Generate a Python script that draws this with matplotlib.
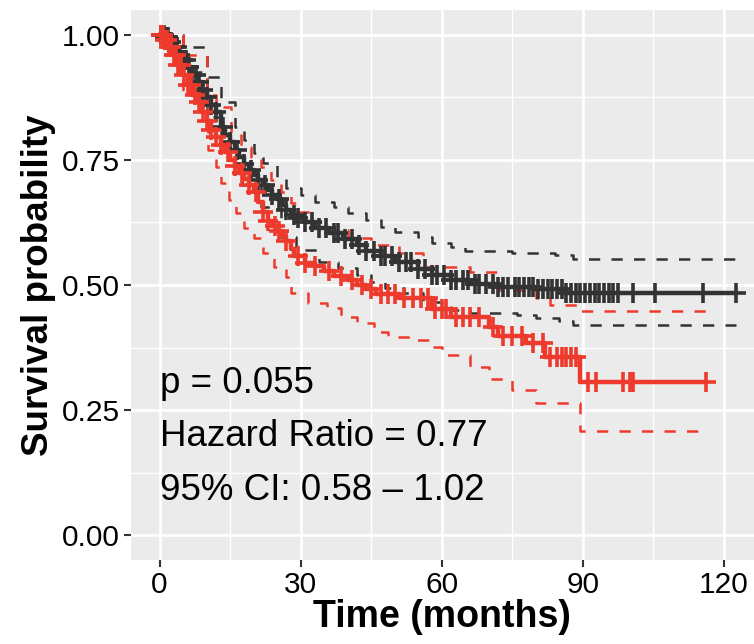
import numpy as np
import matplotlib
matplotlib.use("Agg")
import matplotlib.pyplot as plt

# ---------------- data ----------------
black_t = [0, 1, 2, 3, 4, 5, 6, 7, 8, 9, 10, 11, 12, 13, 14, 15, 16, 17, 18, 19, 20,
           21, 22, 23, 24, 25, 26, 27, 28, 29, 31, 33, 36, 39, 42, 44, 47, 50, 55, 58,
           62, 66, 72, 80, 86, 122.6]
black_s = [1.0, 0.995, 0.985, 0.975, 0.96, 0.95, 0.935, 0.92, 0.905, 0.89, 0.875, 0.86,
           0.845, 0.815, 0.8, 0.785, 0.77, 0.755, 0.742, 0.73, 0.72, 0.71, 0.7, 0.69, 0.68,
           0.672, 0.66, 0.65, 0.64, 0.634, 0.626, 0.614, 0.604, 0.592, 0.58, 0.568, 0.558,
           0.546, 0.532, 0.52, 0.51, 0.503, 0.497, 0.492, 0.485, 0.485]
black_up_t = [0, 5, 10, 13, 16, 18, 20, 22, 25, 27, 30, 33, 37, 40, 44, 47, 50, 55, 58,
              62, 65, 75, 84, 88, 122.6]
black_up_s = [1.0, 0.975, 0.915, 0.865, 0.816, 0.79, 0.764, 0.744, 0.716, 0.694, 0.68,
              0.666, 0.656, 0.644, 0.63, 0.616, 0.606, 0.596, 0.584, 0.576, 0.568, 0.564,
              0.56, 0.553, 0.553]
black_lo_t = [0, 5, 10, 13, 15, 17.5, 21.5, 25.8, 29, 34, 38, 42, 45, 48, 52, 56, 60, 62,
              66, 76, 80, 85, 88, 122.6]
black_lo_s = [1.0, 0.925, 0.835, 0.775, 0.74, 0.7, 0.655, 0.596, 0.57, 0.546, 0.534, 0.52,
              0.506, 0.494, 0.484, 0.466, 0.456, 0.45, 0.444, 0.44, 0.434, 0.428, 0.42, 0.42]
black_cens = [0.3, 0.6, 0.9, 1.2, 1.5, 1.8, 2.1, 2.5, 3, 3.4, 3.8, 4.3, 5, 5.6, 6.2, 7, 7.8,
              8.5, 9.3, 10.2, 11, 12, 13.5, 15, 16.5, 18, 19.5, 21, 22.5, 24, 25.5, 27, 28.5,
              29.5, 31, 32.5, 34, 35.5, 37, 38, 39.5, 41, 42.5, 44, 45.5, 47, 48, 49.5, 51,
              52.5, 53.5, 55, 56.5, 58, 59, 60.5, 62, 63, 64.5, 65.5, 67, 68, 69.5, 71, 72,
              73, 74, 75.5, 76.5, 77.5, 78.5, 79.5, 80.5, 81.5, 82.5, 83.5, 84.5, 85.5, 86.5,
              87.5, 88.5, 89.5, 90.5, 91.5, 92.5, 93.5, 94.5, 95.5, 96.5, 97.5, 100.7, 105.4,
              115.5, 122.6]

red_t = [0, 1, 2, 3, 4, 5, 6, 7, 8, 9, 10, 11, 12, 13, 14, 15, 16, 17, 18, 19, 20, 21, 22,
         23, 24, 25, 26, 27, 28, 28.7, 31, 33, 35, 37, 40, 42, 44, 46, 51, 58, 62, 70, 72,
         78, 82, 89.5, 116.2]
red_s = [1.0, 0.99, 0.975, 0.96, 0.94, 0.92, 0.9, 0.88, 0.865, 0.845, 0.828, 0.81, 0.795,
         0.78, 0.765, 0.75, 0.737, 0.724, 0.712, 0.7, 0.685, 0.665, 0.645, 0.628, 0.617,
         0.607, 0.598, 0.588, 0.572, 0.558, 0.545, 0.538, 0.528, 0.518, 0.51, 0.5, 0.492,
         0.482, 0.474, 0.452, 0.436, 0.416, 0.398, 0.384, 0.356, 0.307, 0.307]
red_up_t = [0, 5, 10, 12, 15.2, 17.3, 19.5, 21.5, 23.7, 25.8, 28, 29, 32, 36, 40, 45, 51,
            56, 66, 72, 80, 83, 89.5, 116.2]
red_up_s = [1.0, 0.96, 0.88, 0.855, 0.804, 0.776, 0.756, 0.736, 0.71, 0.686, 0.664, 0.645,
            0.625, 0.61, 0.594, 0.58, 0.564, 0.536, 0.526, 0.49, 0.474, 0.46, 0.448, 0.448]
red_lo_t = [0, 5, 10.3, 12, 13, 14.8, 16.2, 18, 20, 22, 24.3, 26.8, 28, 31.5, 35.7, 38.5,
            42, 45.5, 48.5, 54, 58, 60, 66, 70, 75, 80, 89.5, 116.2]
red_lo_s = [1.0, 0.885, 0.77, 0.736, 0.704, 0.67, 0.644, 0.614, 0.594, 0.564, 0.536, 0.516,
            0.484, 0.464, 0.454, 0.436, 0.424, 0.406, 0.396, 0.39, 0.376, 0.36, 0.337,
            0.313, 0.29, 0.265, 0.209, 0.209]
red_cens = [0.4, 0.8, 1.2, 1.6, 2, 2.5, 3, 3.5, 4, 4.6, 5.2, 6, 6.8, 7.5, 8.3, 9.2, 10, 11,
            12, 13, 14.5, 16, 17.5, 19, 20.5, 22, 23, 24.5, 25.5, 27, 29.5, 31, 33, 36, 38.5,
            41, 43, 45, 47, 48.5, 50, 52, 54, 55.5, 57, 58.5, 60, 61, 63, 64.5, 66, 68, 71,
            73, 75, 77, 79.5, 81.5, 83, 84.5, 85.5, 86.5, 87.5, 88.5, 91, 92.8, 98.6, 100,
            100.7, 116.2]

x_ticks = [0, 30, 60, 90, 120]
y_ticks = [0.0, 0.25, 0.5, 0.75, 1.0]
y_ticklabels = ["0.00", "0.25", "0.50", "0.75", "1.00"]
annot = ["p = 0.055", "Hazard Ratio = 0.77", "95% CI: 0.58 \u2013 1.02"]
annot_y = [0.304, 0.198, 0.09]

col_black = "#333333"
col_red = "#EE3A2C"

plt.rcParams["font.family"] = ["Liberation Sans", "DejaVu Sans"]

fig = plt.figure(figsize=(7.54, 6.44), dpi=100)
ax = fig.add_axes([0.1735, 0.1304, 0.8265, 0.8541])
ax.set_facecolor("#EBEBEB")
for s in ax.spines.values():
    s.set_visible(False)

ax.set_xlim(-6.1, 126.4)
ax.set_ylim(-0.05, 1.05)
ax.set_xticks(x_ticks)
ax.set_xticks([15, 45, 75, 105], minor=True)
ax.set_yticks(y_ticks)
ax.set_yticks([0.125, 0.375, 0.625, 0.875], minor=True)
ax.set_yticklabels(y_ticklabels)
ax.grid(which="major", color="white", lw=1.9)
ax.grid(which="minor", color="white", lw=0.95)
ax.set_axisbelow(True)
ax.tick_params(which="major", length=5, width=1.5, color="#333333",
               labelsize=21.5, labelcolor="black", pad=3)
ax.tick_params(which="minor", length=0)


def step_val(ts, ss, t):
    i = np.searchsorted(np.asarray(ts), t, side="right") - 1
    return np.asarray(ss)[i]


for (t, s, ut, us, lt, ls, cens, col) in [
        (black_t, black_s, black_up_t, black_up_s, black_lo_t, black_lo_s, black_cens, col_black),
        (red_t, red_s, red_up_t, red_up_s, red_lo_t, red_lo_s, red_cens, col_red)]:
    ax.step(ut, us, where="post", color=col, lw=1.8, linestyle=(0, (4.5, 4.5)))
    ax.step(lt, ls, where="post", color=col, lw=1.8, linestyle=(0, (4.5, 4.5)))
for (t, s, cens, col) in [(black_t, black_s, black_cens, col_black),
                          (red_t, red_s, red_cens, col_red)]:
    ax.step(t, s, where="post", color=col, lw=3.2)
    cy = [step_val(t, s, c) for c in cens]
    ax.plot(cens, cy, linestyle="none", marker="+", markersize=14,
            markeredgewidth=2.6, color=col)

for txt, yy in zip(annot, annot_y):
    ax.text(0, yy, txt, fontsize=26.5, ha="left", va="center", color="black")

ax.set_xlabel("Time (months)", fontsize=27, fontweight="bold", labelpad=0)
ax.set_ylabel("Survival probability", fontsize=26.5, fontweight="bold", labelpad=4)

fig.savefig("out.png", dpi=100)
